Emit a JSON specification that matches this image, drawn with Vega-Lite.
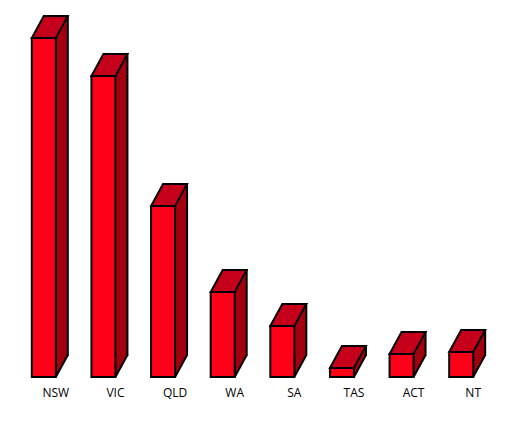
{
  "$schema": "https://vega.github.io/schema/vega-lite/v6.json",
  "width": 477,
  "height": 361,
  "autosize": "none",
  "padding": {"left": 14, "top": 16, "right": 28, "bottom": 69},
  "background": "white",
  "config": {"view": {"stroke": null}},
  "data": {
    "values": [
      {"state": "NSW", "value": 339},
      {"state": "VIC", "value": 301},
      {"state": "QLD", "value": 171},
      {"state": "WA", "value": 85},
      {"state": "SA", "value": 51},
      {"state": "TAS", "value": 9},
      {"state": "ACT", "value": 23},
      {"state": "NT", "value": 25}
    ]
  },
  "encoding": {
    "x": {
      "field": "state",
      "type": "nominal",
      "sort": null,
      "scale": {"paddingInner": 0, "paddingOuter": 0},
      "axis": {
        "title": null,
        "labelAngle": 0,
        "domain": false,
        "ticks": false,
        "labelPadding": 10,
        "labelFont": "Open Sans",
        "labelFontSize": 12,
        "labelColor": "black",
        "labelOffset": 12
      }
    },
    "y": {
      "field": "value",
      "type": "quantitative",
      "scale": {"domain": [0, 361]},
      "axis": null
    }
  },
  "layer": [
    {
      "mark": {"type": "bar", "width": 12, "xOffset": 18, "yOffset": -22, "y2Offset": -22, "fill": "#a3000f", "strokeWidth": 0}
    },
    {
      "mark": {"type": "point", "shape": "M 24 -22 L 12 0 L 12 -22", "size": 4, "filled": true, "fill": "#a3000f", "stroke": "black", "strokeWidth": 2, "opacity": 1},
      "encoding": {"y": {"datum": 0, "type": "quantitative"}}
    },
    {
      "mark": {"type": "bar", "width": 24, "fill": "#ff0019", "stroke": "black", "strokeWidth": 2}
    },
    {
      "mark": {"type": "rule", "xOffset": 24, "yOffset": -22, "y2Offset": -22, "stroke": "black", "strokeWidth": 2, "strokeCap": "square"},
      "encoding": {"y2": {"datum": 0}}
    },
    {
      "mark": {"type": "point", "shape": "M -12 0 L 12 0 L 24 -22 L 0 -22 Z", "size": 4, "filled": true, "fill": "#c6001a", "stroke": "black", "strokeWidth": 2, "opacity": 1}
    }
  ]
}
